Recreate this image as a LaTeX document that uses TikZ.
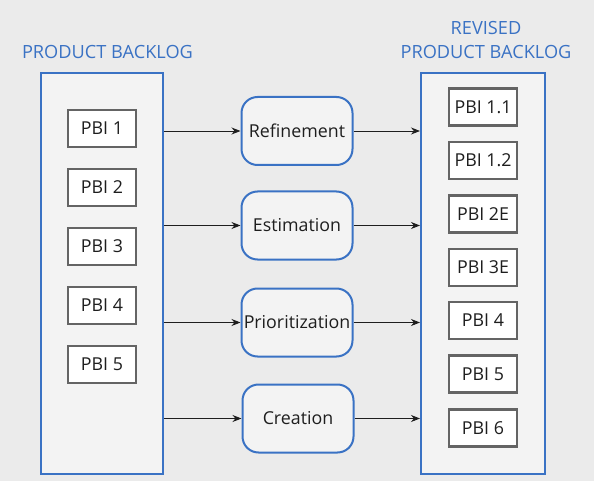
\documentclass[tikz,border=0pt]{standalone}
\usepackage{fontspec}
\setmainfont{Open Sans}
\usetikzlibrary{arrows.meta}

\definecolor{bgcol}{HTML}{EBEBEB}
\definecolor{panel}{HTML}{F3F3F3}
\definecolor{blueline}{HTML}{3A72C4}
\definecolor{greyline}{HTML}{646464}
\definecolor{inkcol}{HTML}{1E1E1E}

\begin{document}
\begin{tikzpicture}[x=1pt, y=-1pt,
  backlog/.style={draw=blueline, line width=2pt, fill=panel, inner sep=0pt},
  item/.style={draw=greyline, line width=2.5pt, fill=white, minimum width=68pt,
    minimum height=37pt, inner sep=0pt, text=inkcol, font=\fontsize{17.8}{20}\selectfont},
  stage/.style={draw=blueline, line width=2pt, fill=panel, rounded corners=16pt,
    minimum width=111pt, minimum height=68pt, inner sep=0pt, text=inkcol,
    font=\fontsize{17.8}{20}\selectfont},
  heading/.style={text=blueline, align=center, font=\fontsize{18.2}{24}\selectfont},
  flow/.style={-{Stealth[length=9pt,width=7pt]}, line width=0.9pt, inkcol}]

% Background
\fill[bgcol] (0,0) rectangle (594,481);
\useasboundingbox (0,0) rectangle (594,481);

% Backlog panels
\node[backlog, minimum width=122pt, minimum height=401pt] (left) at (102,273.5) {};
\node[backlog, minimum width=124pt, minimum height=401pt] (right) at (483,273.5) {};

% Headings
\node[heading] (lefttitle) at (107.5,52) {PRODUCT BACKLOG};
\node[heading] (righttitle) at (486,40) {REVISED\\PRODUCT BACKLOG};

% Items in the product backlog
\node[item] (pbi1) at (102,128.5) {PBI 1};
\node[item] (pbi2) at (102,187.5) {PBI 2};
\node[item] (pbi3) at (102,246.5) {PBI 3};
\node[item] (pbi4) at (102,305.5) {PBI 4};
\node[item] (pbi5) at (102,364.5) {PBI 5};

% Items in the revised backlog
\node[item] (rev11) at (483,107) {PBI 1.1};
\node[item] (rev12) at (483,160.5) {PBI 1.2};
\node[item] (rev2e) at (483,214) {PBI 2E};
\node[item] (rev3e) at (483,267.5) {PBI 3E};
\node[item] (rev4) at (483,320.5) {PBI 4};
\node[item] (rev5) at (483,374) {PBI 5};
\node[item] (rev6) at (483,428) {PBI 6};

% Activities
\node[stage] (refine) at (297,131) {Refinement};
\node[stage] (estimate) at (297,225.5) {Estimation};
\node[stage] (prioritize) at (297,322.5) {Prioritization};
\node[stage] (create) at (298,418.5) {Creation};

% Flows
\draw[flow] (left.east |- refine.west) -- (refine.west);
\draw[flow] (refine.east) -- (right.west |- refine.east);
\draw[flow] (left.east |- estimate.west) -- (estimate.west);
\draw[flow] (estimate.east) -- (right.west |- estimate.east);
\draw[flow] (left.east |- prioritize.west) -- (prioritize.west);
\draw[flow] (prioritize.east) -- (right.west |- prioritize.east);
\draw[flow] (left.east |- create.west) -- (create.west);
\draw[flow] (create.east) -- (right.west |- create.east);

\end{tikzpicture}
\end{document}
